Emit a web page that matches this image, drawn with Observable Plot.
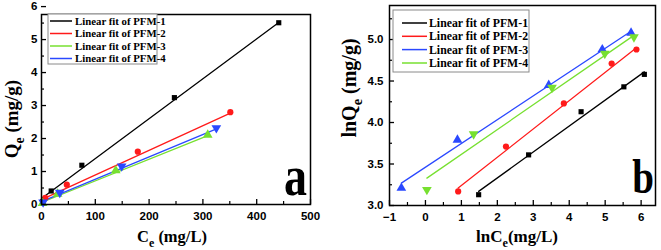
<!DOCTYPE html>
<html><head><meta charset="utf-8">
<script src="https://cdn.jsdelivr.net/npm/d3@7"></script>
<script src="https://cdn.jsdelivr.net/npm/@observablehq/plot@0.6"></script>
<style>
body{margin:0;background:#fff;}
#wrap{display:flex;width:661px;height:250px;overflow:hidden;}
svg{overflow:visible;}
</style></head><body><div id="wrap"></div>
<script>
// ---------- Panel a data (Ce vs Qe) ----------
const seriesNames = ["PFM-1", "PFM-2", "PFM-3", "PFM-4"];
const colorsA = ["#000000", "#ff1a1a", "#77e030", "#2a48ff"];
const colorsB = ["#000000", "#ff1a1a", "#2a48ff", "#77e030"];
const symbolsA = ["square", "circle", "triangle", "tridown"];
const symbolsB = ["square", "circle", "triangle", "tridown"];

const ceA1 = [2, 18, 75, 247, 441], qeA1 = [0.08, 0.41, 1.19, 3.24, 5.51];
const ceA2 = [7, 47, 179, 351],     qeA2 = [0.2, 0.6, 1.6, 2.8];
const ceA3 = [2, 30, 138, 309],     qeA3 = [0.04, 0.32, 1.03, 2.11];
const ceA4 = [3, 34, 149, 325],     qeA4 = [0.07, 0.36, 1.16, 2.32];
const fitAx = [[0, 441], [0, 350], [0, 308], [0, 323]];
const fitAy = [[0.18, 5.52], [0.15, 2.76], [0.06, 2.08], [0.09, 2.28]];

// ---------- Panel b data (lnCe vs lnQe) ----------
const lnCeB1 = [1.48, 2.87, 4.33, 5.52, 6.09], lnQeB1 = [3.13, 3.61, 4.13, 4.43, 4.58];
const lnCeB2 = [0.91, 2.24, 3.85, 5.18, 5.87], lnQeB2 = [3.17, 3.71, 4.23, 4.71, 4.88];
const lnCeB3 = [-0.67, 0.89, 3.43, 4.92, 5.72], lnQeB3 = [3.21, 3.79, 4.45, 4.88, 5.08];
const lnCeB4 = [0.04, 1.34, 3.52, 4.99, 5.80], lnQeB4 = [3.19, 3.86, 4.42, 4.83, 5.03];
const fitBx = [[1.48, 6.09], [0.91, 5.87], [-0.67, 5.72], [0.04, 5.80]];
const fitBy = [[3.17, 4.61], [3.21, 4.90], [3.27, 5.10], [3.33, 5.05]];

// ticks
const xTicksA = [0, 100, 200, 300, 400, 500], xMinorA = [50, 150, 250, 350, 450];
const yTicksA = [0, 1, 2, 3, 4, 5, 6], yMinorA = [0.5, 1.5, 2.5, 3.5, 4.5, 5.5];
const xTicksB = [-1, 0, 1, 2, 3, 4, 5, 6], xMinorB = [-0.5, 0.5, 1.5, 2.5, 3.5, 4.5, 5.5];
const yTicksB = [3.0, 3.5, 4.0, 4.5, 5.0], yMinorB = [3.25, 3.75, 4.25, 4.75, 5.25];

// ---------- helpers ----------
const sqrt3 = Math.sqrt(3);
const triDown = {draw(ctx, size) {
  const y = Math.sqrt(size / (sqrt3 * 3));
  ctx.moveTo(0, 2 * y); ctx.lineTo(-sqrt3 * y, -y); ctx.lineTo(sqrt3 * y, -y); ctx.closePath();
}};
const sym = s => s === "tridown" ? triDown : s;

function pts(xs, ys, i) { return xs.map((x, j) => ({x, y: ys[j], s: i})); }
function fitRows(fx, fy) { return fx.flatMap((xx, i) => xx.map((x, j) => ({x, y: fy[i][j], s: i}))); }

const dataA = [pts(ceA1, qeA1, 0), pts(ceA2, qeA2, 1), pts(ceA3, qeA3, 2), pts(ceA4, qeA4, 3)];
const dataB = [pts(lnCeB1, lnQeB1, 0), pts(lnCeB2, lnQeB2, 1), pts(lnCeB3, lnQeB3, 2), pts(lnCeB4, lnQeB4, 3)];

const style = {fontFamily: "'Liberation Sans', Arial, sans-serif", fontSize: "11.5px", fontWeight: "bold", color: "#000", background: "#fff", overflow: "visible"};

function makePanel(cfg) {
  const marks = [];
  const fits = cfg.fits;
  for (let i = 0; i < 4; i++) {
    marks.push(Plot.line(fits.filter(d => d.s === i), {x: "x", y: "y", stroke: cfg.colors[i], strokeWidth: 1.3}));
  }
  cfg.data.forEach((d, i) => {
    marks.push(Plot.dot(d, {x: "x", y: "y", fill: cfg.colors[i], stroke: "none", symbol: sym(cfg.symbols[i]), r: cfg.symbols[i] === "square" ? 2.9 : (cfg.symbols[i] === "circle" ? 3.1 : 3.6)}));
  });
  marks.push(
    Plot.axisX(cfg.xTicks, {tickSize: -5, tickPadding: 12, tickFormat: cfg.xFmt, label: null, strokeWidth: 1.3}),
    Plot.axisX(cfg.xMinor, {tickSize: -3, tickFormat: () => "", label: null, strokeWidth: 1.2}),
    Plot.axisY(cfg.yTicks, {tickSize: -5, tickPadding: cfg.yPad, tickFormat: cfg.yFmt, label: null, strokeWidth: 1.3}),
    Plot.axisY(cfg.yMinor, {tickSize: -3, tickFormat: () => "", label: null, strokeWidth: 1.2}),
    Plot.frame({stroke: "#000", strokeWidth: 1.5})
  );
  return Plot.plot({
    width: cfg.width, height: 250,
    marginLeft: cfg.ml, marginRight: cfg.mr, marginTop: cfg.mt, marginBottom: cfg.mb,
    x: {domain: cfg.xDomain}, y: {domain: cfg.yDomain},
    style, marks
  });
}

const svgA = makePanel({
  width: 330, ml: 41, mr: 20, mt: 14, mb: 46,
  xDomain: [0, 500], yDomain: [0, 5.76],
  fits: fitRows(fitAx, fitAy),
  data: dataA, colors: colorsA, symbols: symbolsA,
  xTicks: xTicksA, xMinor: xMinorA, yTicks: yTicksA, yMinor: yMinorA,
  xFmt: d3.format("d"), yFmt: d3.format("d"), yPad: 9
});
const svgB = makePanel({
  width: 331, ml: 59, mr: 6, mt: 5, mb: 45,
  xDomain: [-1, 6.4], yDomain: [3.0, 5.41],
  fits: fitRows(fitBx, fitBy),
  data: dataB, colors: colorsB, symbols: symbolsB,
  xTicks: xTicksB, xMinor: xMinorB, yTicks: yTicksB, yMinor: yMinorB,
  xFmt: d3.format("d"), yFmt: d3.format(".1f"), yPad: 11
});

const wrap = document.getElementById("wrap");
wrap.append(svgA, svgB);

// ---------- titles, legends, panel letters ----------
const serif = "'Liberation Serif', 'Times New Roman', serif";
function addTitle(svg, {x, y, rotate, size, pre, main, sub, post}) {
  const t = d3.select(svg).append("text")
    .attr("transform", `translate(${x},${y})` + (rotate ? " rotate(-90)" : ""))
    .attr("text-anchor", "middle").attr("font-family", serif).attr("font-weight", "bold")
    .attr("font-size", size).attr("fill", "#000");
  t.append("tspan").text(pre + main);
  t.append("tspan").attr("font-size", size * 0.72).attr("dy", size * 0.3).text(sub);
  t.append("tspan").attr("dy", -size * 0.3).text(post);
}
addTitle(svgA, {x: 172, y: 242, size: 16.5, pre: "", main: "C", sub: "e", post: " (mg/L)"});
addTitle(svgA, {x: 18, y: 119, rotate: true, size: 19, pre: "", main: "Q", sub: "e", post: " (mg/g)"});
addTitle(svgB, {x: 187, y: 242, size: 17, pre: "ln", main: "C", sub: "e", post: "(mg/L)"});
addTitle(svgB, {x: 26, y: 88, rotate: true, size: 20, pre: "ln", main: "Q", sub: "e", post: " (mg/g)"});

function addLegend(svg, {x0, y0, w, h, lx1, lx2, tx, rows, size, colors}) {
  const g = d3.select(svg).append("g");
  g.append("rect").attr("x", x0).attr("y", y0).attr("width", w).attr("height", h)
    .attr("fill", "#fff").attr("stroke", "#8a8a8a").attr("stroke-width", 1);
  seriesNames.forEach((n, i) => {
    g.append("line").attr("x1", lx1).attr("x2", lx2).attr("y1", rows[i]).attr("y2", rows[i])
      .attr("stroke", colors[i]).attr("stroke-width", 1.5);
    g.append("text").attr("x", tx).attr("y", rows[i]).attr("dy", "0.35em")
      .attr("text-anchor", "start")
      .attr("font-family", serif).attr("font-weight", "bold").attr("font-size", size)
      .attr("fill", "#000").text("Linear fit of " + n);
  });
}
addLegend(svgA, {x0: 48, y0: 14, w: 109, h: 50, lx1: 50, lx2: 72, tx: 75, rows: [21, 33.5, 46, 58.5], size: 10.8, colors: colorsA});
addLegend(svgB, {x0: 63, y0: 10, w: 136, h: 62, lx1: 72, lx2: 97, tx: 99, rows: [23, 36.3, 49.6, 63], size: 11.8, colors: colorsB});

function addLetter(svg, {x, y, size, ch}) {
  d3.select(svg).append("text").attr("transform", `translate(${x},${y}) scale(1,1.25)`)
    .attr("text-anchor", "end").attr("font-family", serif).attr("font-weight", "bold")
    .attr("font-size", size).attr("fill", "#000").text(ch);
}
addLetter(svgA, {x: 307, y: 195, size: 46, ch: "a"});
addLetter(svgB, {x: 324, y: 193, size: 39, ch: "b"});
</script>
</body></html>
